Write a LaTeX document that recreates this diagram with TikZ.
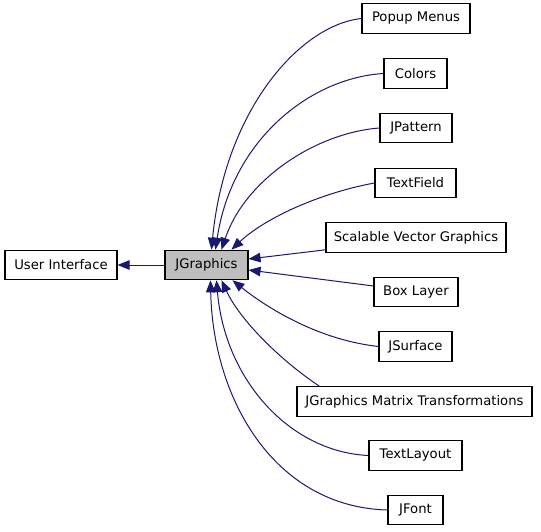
\documentclass[tikz,border=0pt]{standalone}
\usepackage{fontspec}
\setmainfont{DejaVu Sans}
\usetikzlibrary{arrows.meta}
\definecolor{edgeblue}{RGB}{25,25,112}
\definecolor{jggray}{RGB}{191,191,191}
\begin{document}
\begin{tikzpicture}[x=1pt,y=-1pt,
  box/.style={draw=black,line width=1.1pt,fill=white,minimum height=29.5pt,inner sep=0pt,font=\fontsize{13.2}{15}\selectfont},
  edge/.style={draw=edgeblue,line width=1pt,-{Triangle[length=12pt,width=9.5pt]}}]
\useasboundingbox (0,0) rectangle (541,532);
\node[box,minimum width=112pt] (ui) at (61,265) {User Interface};
\node[box,minimum width=83pt,fill=jggray] (jg) at (206.5,265) {JGraphics};
\node[box,minimum width=108pt] (popup) at (416,18.5) {Popup Menus};
\node[box,minimum width=63pt] (colors) at (415.5,73.5) {Colors};
\node[box,minimum width=72pt] (jpattern) at (416,128) {JPattern};
\node[box,minimum width=81pt] (textfield) at (415.5,183) {TextField};
\node[box,minimum width=180pt] (svg) at (416,237.5) {Scalable Vector Graphics};
\node[box,minimum width=84pt] (boxlayer) at (416,292) {Box Layer};
\node[box,minimum width=73pt] (jsurface) at (415.5,346.5) {JSurface};
\node[box,minimum width=235pt] (jgmt) at (414.5,401.5) {JGraphics Matrix Transformations};
\node[box,minimum width=93pt] (textlayout) at (415.5,455.5) {TextLayout};
\node[box,minimum width=55pt] (jfont) at (415.5,510) {JFont};
\draw[edge] (jg.west) -- (ui.east);
\draw[edge] (popup.west) .. controls (300,25) and (225,110) .. ([xshift=47pt]jg.north west);
\draw[edge] (colors.west) .. controls (310,78) and (232,140) .. ([xshift=51pt]jg.north west);
\draw[edge] (jpattern.west) .. controls (315,133) and (245,180) .. ([xshift=57pt]jg.north west);
\draw[edge] (textfield.west) .. controls (320,193) and (265,218) .. ([xshift=67pt]jg.north west);
\draw[edge] ([yshift=3pt]svg.south west) -- ([yshift=6pt]jg.east);
\draw[edge] ([yshift=6pt]boxlayer.west) -- ([yshift=-5pt]jg.east);
\draw[edge] (jsurface.west) .. controls (320,340) and (270,310) .. ([xshift=68pt]jg.south west);
\draw[edge] ([xshift=23pt]jgmt.north west) .. controls (280,360) and (240,320) .. ([xshift=57pt]jg.south west);
\draw[edge] (textlayout.west) .. controls (290,452) and (225,380) .. ([xshift=52pt]jg.south west);
\draw[edge] (jfont.west) .. controls (275,507) and (213,400) .. ([xshift=46pt]jg.south west);
\end{tikzpicture}
\end{document}
